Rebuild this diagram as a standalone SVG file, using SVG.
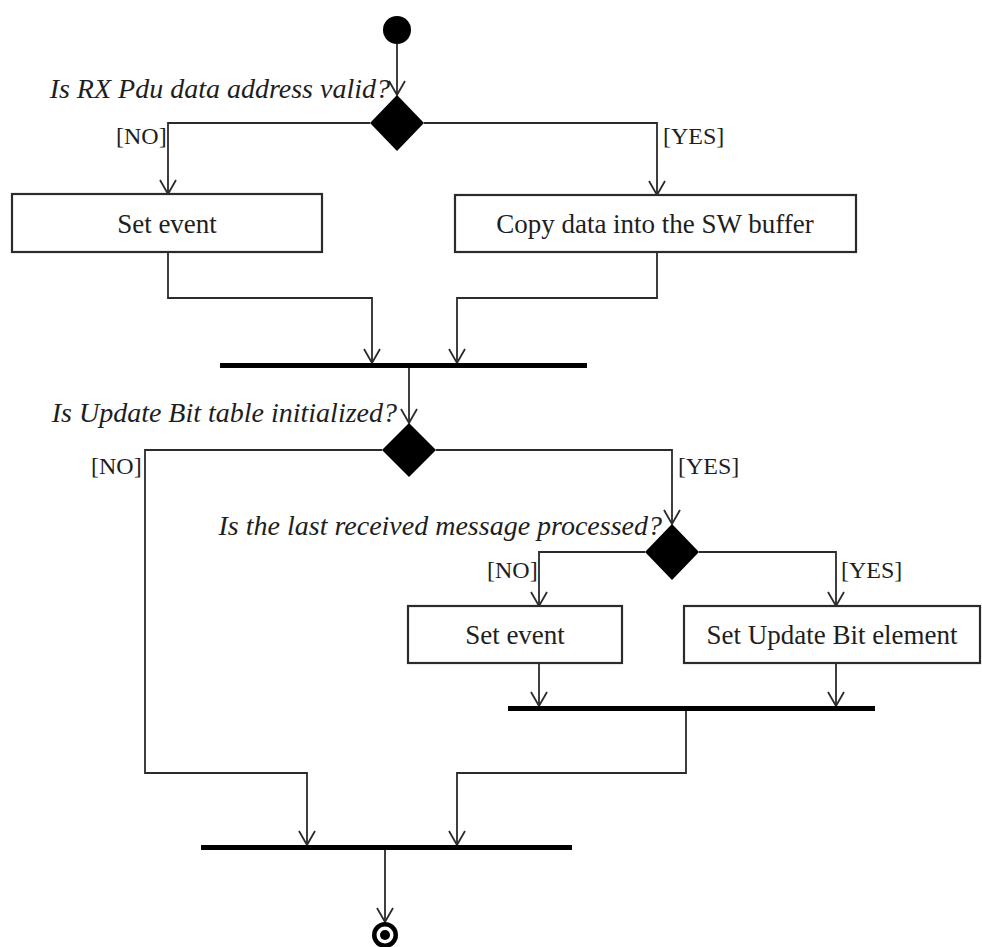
<svg xmlns="http://www.w3.org/2000/svg" width="982" height="947" viewBox="0 0 982 947">
  <defs>
    <style>
      .flow { fill: none; stroke: #2b2b2b; stroke-width: 1.8; }
      .box { fill: #ffffff; stroke: #2b2b2b; stroke-width: 2.2; }
      .bar { fill: #000000; }
      .decision { fill: #000000; }
      .act { font-family: "Liberation Serif", "Times New Roman", serif; font-size: 27px; fill: #1e1e1e; text-anchor: middle; }
      .question { font-family: "Liberation Serif", "Times New Roman", serif; font-size: 28px; font-style: italic; fill: #1e1e1e; text-anchor: end; }
      .guard { font-family: "Liberation Serif", "Times New Roman", serif; font-size: 24px; fill: #1e1e1e; }
    </style>
    <!-- open V arrowhead, drawn pointing along +x so orient="auto" follows the line -->
    <marker id="arrow" viewBox="-16 -10 18 20" markerWidth="18" markerHeight="20" refX="0" refY="0" orient="auto" markerUnits="userSpaceOnUse">
      <path d="M -14,-8 L 0,0 L -14,8" fill="none" stroke="#2b2b2b" stroke-width="1.8"/>
    </marker>
  </defs>

  <rect width="982" height="947" fill="#ffffff"/>

  <!-- connectors -->
  <g id="connectors">
    <path class="flow" d="M 397,44 L 397,95" marker-end="url(#arrow)"/>
    <path class="flow" d="M 370,123 L 168,123 L 168,194" marker-end="url(#arrow)"/>
    <path class="flow" d="M 424,123 L 657,123 L 657,195" marker-end="url(#arrow)"/>
    <path class="flow" d="M 168,252 L 168,298 L 372,298 L 372,363" marker-end="url(#arrow)"/>
    <path class="flow" d="M 657,252 L 657,298 L 457,298 L 457,363" marker-end="url(#arrow)"/>
    <path class="flow" d="M 409,367 L 409,423" marker-end="url(#arrow)"/>
    <path class="flow" d="M 382,450 L 145,450 L 145,773 L 307,773 L 307,845" marker-end="url(#arrow)"/>
    <path class="flow" d="M 436,450 L 672,450 L 672,524" marker-end="url(#arrow)"/>
    <path class="flow" d="M 645,552 L 539,552 L 539,606" marker-end="url(#arrow)"/>
    <path class="flow" d="M 699,552 L 836,552 L 836,606" marker-end="url(#arrow)"/>
    <path class="flow" d="M 539,663 L 539,706" marker-end="url(#arrow)"/>
    <path class="flow" d="M 836,663 L 836,706" marker-end="url(#arrow)"/>
    <path class="flow" d="M 686,710 L 686,773 L 457,773 L 457,845" marker-end="url(#arrow)"/>
    <path class="flow" d="M 385,849 L 385,922" marker-end="url(#arrow)"/>
  </g>

  <!-- initial node -->
  <g id="start">
    <circle cx="397" cy="30" r="14" fill="#000000"/>
  </g>

  <!-- decision: RX Pdu data address -->
  <g id="decision-address">
    <polygon class="decision" points="397,95 424,123 397,151 370,123"/>
    <text class="question" x="390" y="98">Is RX Pdu data address valid?</text>
    <text class="guard" x="116" y="144">[NO]</text>
    <text class="guard" x="663" y="144">[YES]</text>
  </g>

  <g id="set-event-1">
    <rect class="box" x="12" y="194" width="310" height="58"/>
    <text class="act" x="167" y="233">Set event</text>
  </g>

  <g id="copy-data">
    <rect class="box" x="455" y="195" width="401" height="57"/>
    <text class="act" x="655" y="233">Copy data into the SW buffer</text>
  </g>

  <g id="join-1">
    <rect class="bar" x="220" y="363" width="367" height="5"/>
  </g>

  <!-- decision: Update Bit table -->
  <g id="decision-table">
    <polygon class="decision" points="409,423 436,450 409,477 382,450"/>
    <text class="question" x="397" y="422">Is Update Bit table initialized?</text>
    <text class="guard" x="91" y="474">[NO]</text>
    <text class="guard" x="678" y="474">[YES]</text>
  </g>

  <!-- decision: last received message -->
  <g id="decision-message">
    <polygon class="decision" points="672,524 699,552 672,580 645,552"/>
    <text class="question" x="662" y="535">Is the last received message processed?</text>
    <text class="guard" x="487" y="578">[NO]</text>
    <text class="guard" x="841" y="578">[YES]</text>
  </g>

  <g id="set-event-2">
    <rect class="box" x="408" y="606" width="214" height="57"/>
    <text class="act" x="515" y="644">Set event</text>
  </g>

  <g id="set-update-bit">
    <rect class="box" x="684" y="606" width="296" height="57"/>
    <text class="act" x="832" y="644">Set Update Bit element</text>
  </g>

  <g id="join-2">
    <rect class="bar" x="508" y="706" width="367" height="5"/>
  </g>

  <g id="join-3">
    <rect class="bar" x="201" y="845" width="371" height="5"/>
  </g>

  <!-- final node -->
  <g id="final">
    <circle cx="385" cy="935" r="13" fill="#000000"/>
    <circle cx="385" cy="935" r="8.5" fill="#ffffff"/>
    <circle cx="385" cy="935" r="5" fill="#000000"/>
  </g>
</svg>
